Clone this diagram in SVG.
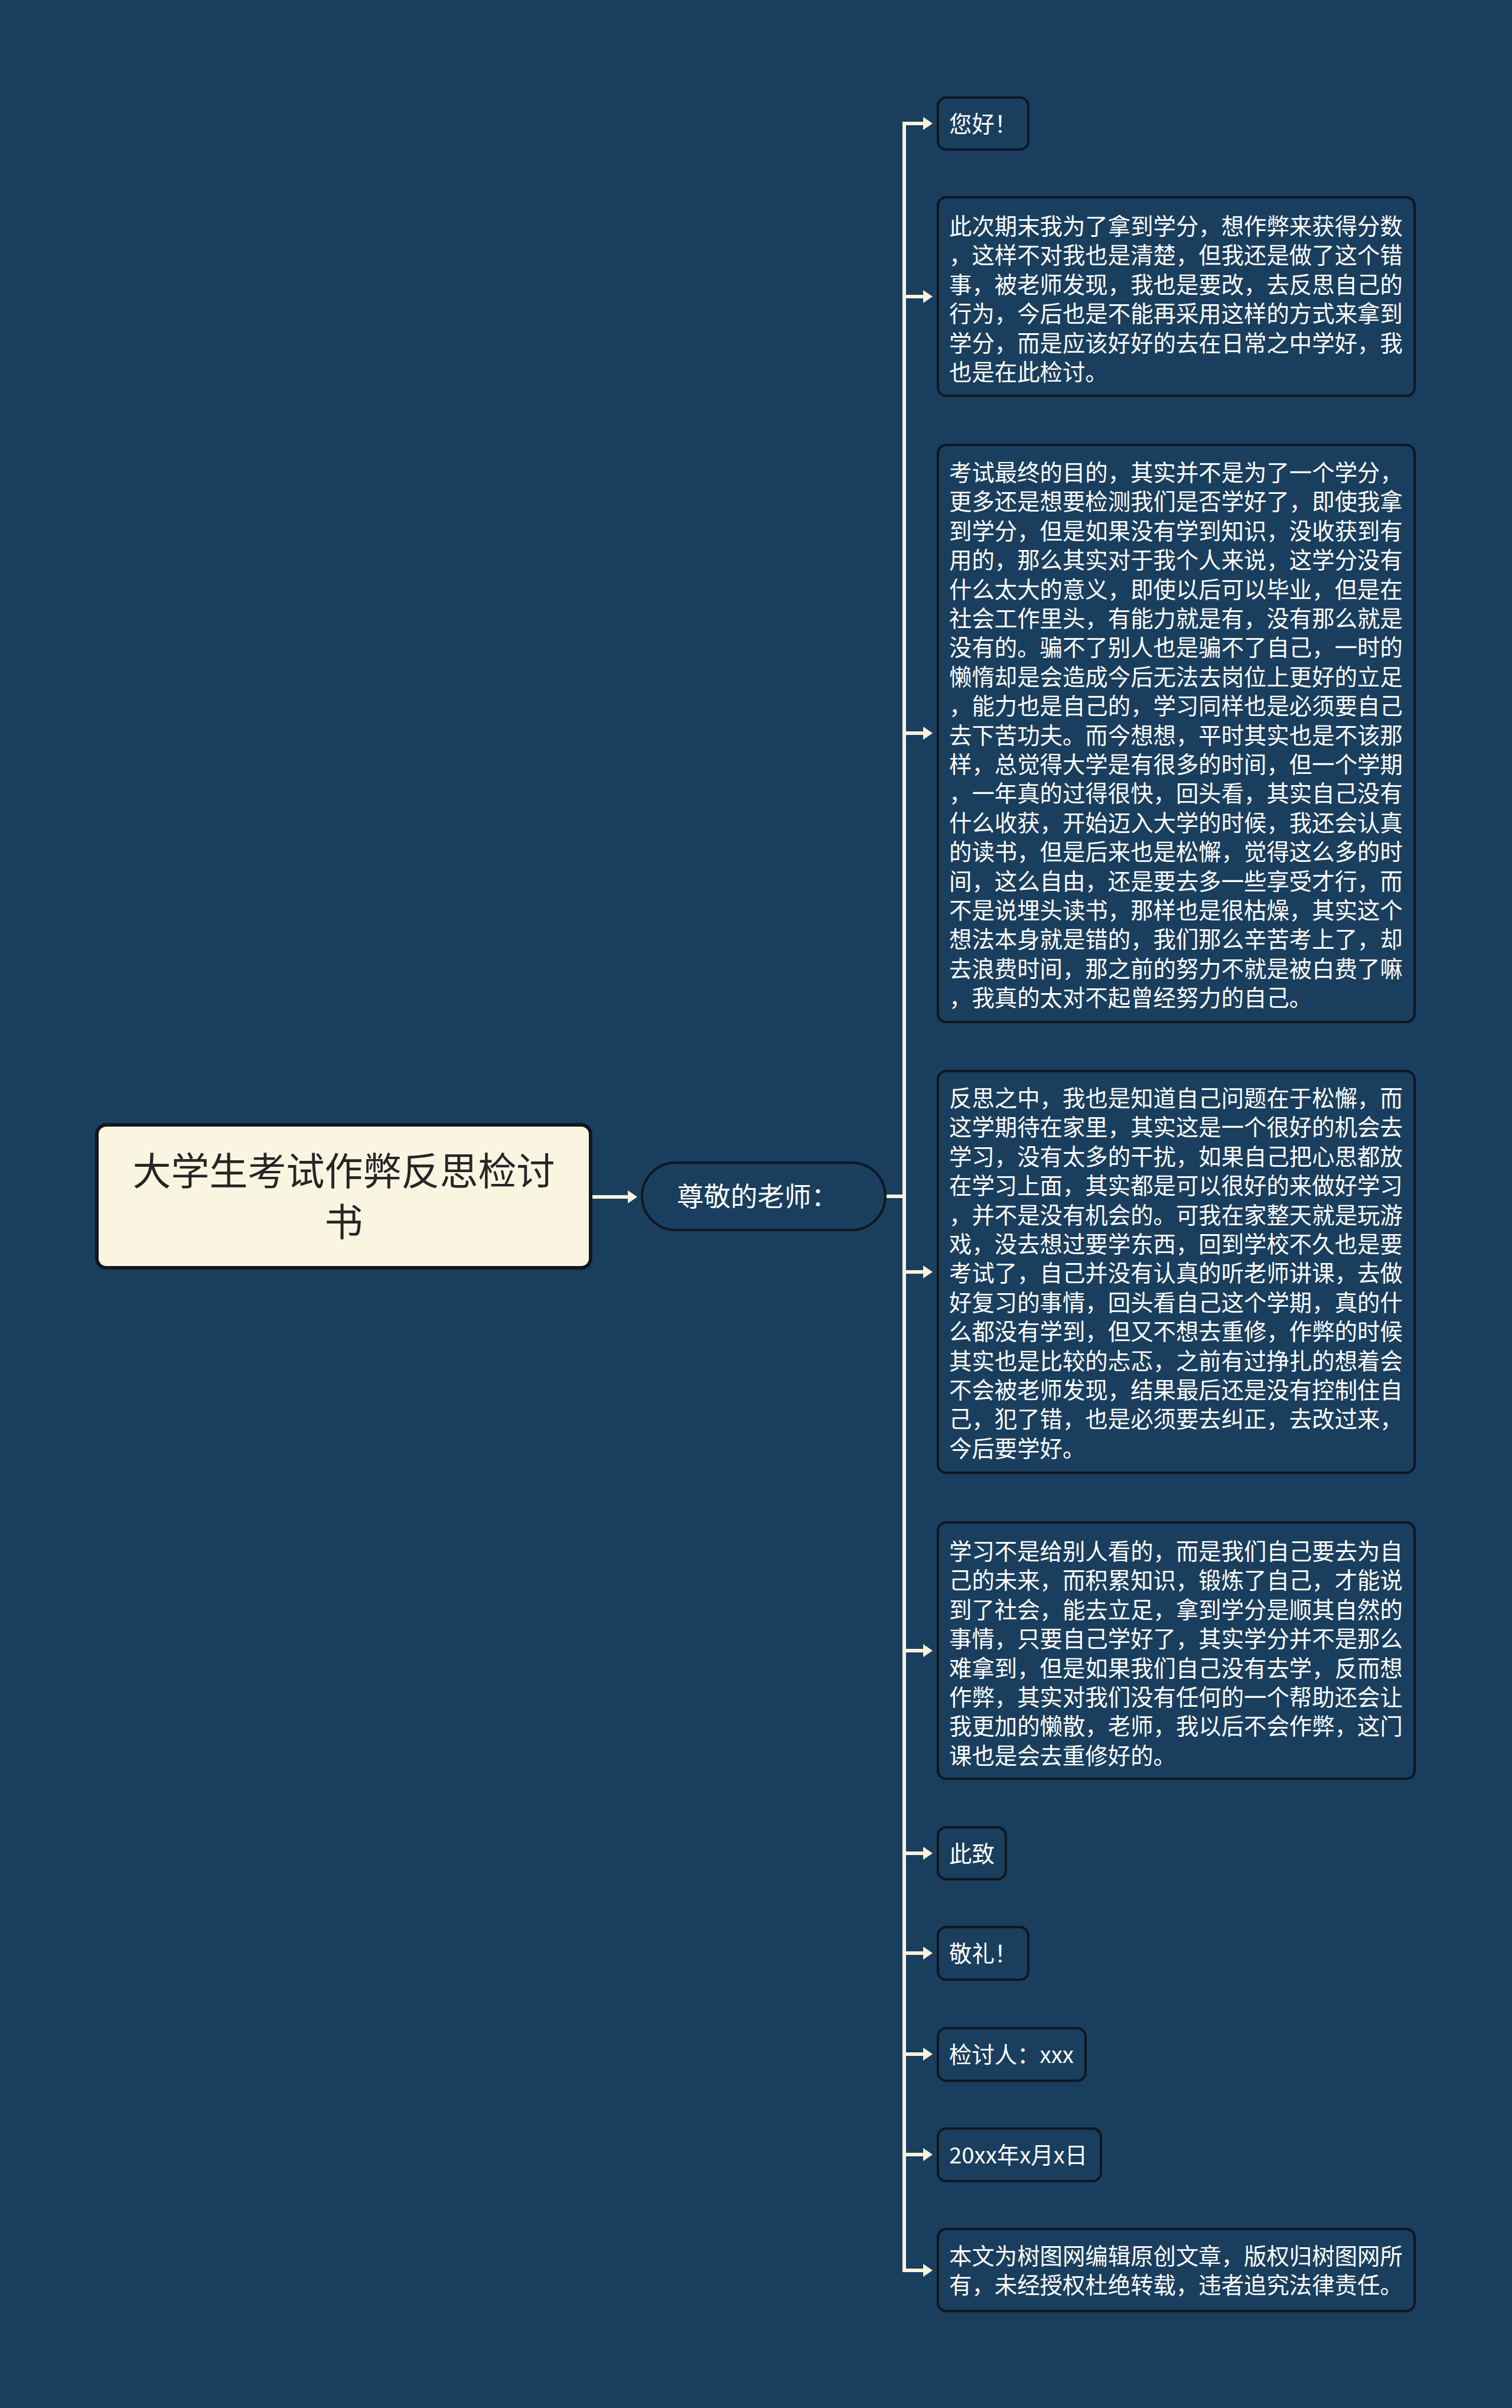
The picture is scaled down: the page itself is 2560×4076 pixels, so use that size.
<svg xmlns="http://www.w3.org/2000/svg" width="2560" height="4076" viewBox="0 0 2560 4076">
<style>
.bg{fill:#1A3E5D}
.node{fill:#1A3E5D;stroke:#0E1720;stroke-width:4}
.root{fill:#FAF5E1;stroke:#0E1720;stroke-width:6}
.t{font-family:"Noto Sans CJK SC","Noto Sans",sans-serif;font-size:38.4px;fill:#FFFFFF}
.rt{font-family:"Noto Sans CJK SC","Noto Sans",sans-serif;font-size:65px;fill:#262626}
.st{font-family:"Noto Sans CJK SC","Noto Sans",sans-serif;font-size:45.5px;fill:#FFFFFF}
.c{fill:none;stroke:#FAF3DD;stroke-width:6}
</style>
<defs>
<marker id="ah" markerWidth="18" markerHeight="24" refX="0" refY="12" orient="auto" markerUnits="userSpaceOnUse">
<path d="M0,1 L16,12 L0,23 Z" fill="#FAF3DD"/>
</marker>
</defs>
<rect class="bg" x="0" y="0" width="2560" height="4076"/>

<g id="connectors">
<path class="c" d="M1531,209 V3843" stroke-linecap="square"/>
<path class="c" d="M1000,2026 H1063" marker-end="url(#ah)"/>
<path class="c" d="M1500,2025 H1531"/>
<path class="c" d="M1531,209 H1563" marker-end="url(#ah)"/>
<path class="c" d="M1531,502 H1563" marker-end="url(#ah)"/>
<path class="c" d="M1531,1241 H1563" marker-end="url(#ah)"/>
<path class="c" d="M1531,2153 H1563" marker-end="url(#ah)"/>
<path class="c" d="M1531,2794 H1563" marker-end="url(#ah)"/>
<path class="c" d="M1531,3137 H1563" marker-end="url(#ah)"/>
<path class="c" d="M1531,3306 H1563" marker-end="url(#ah)"/>
<path class="c" d="M1531,3477 H1563" marker-end="url(#ah)"/>
<path class="c" d="M1531,3647 H1563" marker-end="url(#ah)"/>
<path class="c" d="M1531,3843 H1563" marker-end="url(#ah)"/>
</g>

<g id="root">
<rect class="root" x="164" y="1904" width="836" height="242" rx="16"/>
<text class="rt" text-anchor="middle" x="582" y="2006">大学生考试作弊反思检讨</text>
<text class="rt" text-anchor="middle" x="582" y="2092">书</text>
</g>

<g id="sub">
<rect class="node" x="1087" y="1968" width="412" height="114" rx="57" stroke-width="5"/>
<text class="st" x="1146" y="2042">尊敬的老师：</text>
</g>

<g id="n1">
<rect class="node" x="1588" y="165" width="153" height="88" rx="14"/>
<text class="t" x="1607" y="224">您好！</text>
</g>

<g id="n2">
<rect class="node" x="1588" y="334" width="807" height="336" rx="14"/>
<text class="t">
<tspan x="1607" y="397">此次期末我为了拿到学分，想作弊来获得分数</tspan>
<tspan x="1607" y="446.4">，这样不对我也是清楚，但我还是做了这个错</tspan>
<tspan x="1607" y="495.8">事，被老师发现，我也是要改，去反思自己的</tspan>
<tspan x="1607" y="545.2">行为，今后也是不能再采用这样的方式来拿到</tspan>
<tspan x="1607" y="594.6">学分，而是应该好好的去在日常之中学好，我</tspan>
<tspan x="1607" y="644">也是在此检讨。</tspan>
</text>
</g>

<g id="n3">
<rect class="node" x="1588" y="753" width="807" height="977" rx="14"/>
<text class="t">
<tspan x="1607" y="814">考试最终的目的，其实并不是为了一个学分，</tspan>
<tspan x="1607" y="863.4">更多还是想要检测我们是否学好了，即使我拿</tspan>
<tspan x="1607" y="912.8">到学分，但是如果没有学到知识，没收获到有</tspan>
<tspan x="1607" y="962.2">用的，那么其实对于我个人来说，这学分没有</tspan>
<tspan x="1607" y="1011.6">什么太大的意义，即使以后可以毕业，但是在</tspan>
<tspan x="1607" y="1061">社会工作里头，有能力就是有，没有那么就是</tspan>
<tspan x="1607" y="1110.4">没有的。骗不了别人也是骗不了自己，一时的</tspan>
<tspan x="1607" y="1159.8">懒惰却是会造成今后无法去岗位上更好的立足</tspan>
<tspan x="1607" y="1209.2">，能力也是自己的，学习同样也是必须要自己</tspan>
<tspan x="1607" y="1258.6">去下苦功夫。而今想想，平时其实也是不该那</tspan>
<tspan x="1607" y="1308">样，总觉得大学是有很多的时间，但一个学期</tspan>
<tspan x="1607" y="1357.4">，一年真的过得很快，回头看，其实自己没有</tspan>
<tspan x="1607" y="1406.8">什么收获，开始迈入大学的时候，我还会认真</tspan>
<tspan x="1607" y="1456.2">的读书，但是后来也是松懈，觉得这么多的时</tspan>
<tspan x="1607" y="1505.6">间，这么自由，还是要去多一些享受才行，而</tspan>
<tspan x="1607" y="1555">不是说埋头读书，那样也是很枯燥，其实这个</tspan>
<tspan x="1607" y="1604.4">想法本身就是错的，我们那么辛苦考上了，却</tspan>
<tspan x="1607" y="1653.8">去浪费时间，那之前的努力不就是被白费了嘛</tspan>
<tspan x="1607" y="1703.2">，我真的太对不起曾经努力的自己。</tspan>
</text>
</g>

<g id="n4">
<rect class="node" x="1588" y="1813" width="807" height="680" rx="14"/>
<text class="t">
<tspan x="1607" y="1873">反思之中，我也是知道自己问题在于松懈，而</tspan>
<tspan x="1607" y="1922.4">这学期待在家里，其实这是一个很好的机会去</tspan>
<tspan x="1607" y="1971.8">学习，没有太多的干扰，如果自己把心思都放</tspan>
<tspan x="1607" y="2021.2">在学习上面，其实都是可以很好的来做好学习</tspan>
<tspan x="1607" y="2070.6">，并不是没有机会的。可我在家整天就是玩游</tspan>
<tspan x="1607" y="2120">戏，没去想过要学东西，回到学校不久也是要</tspan>
<tspan x="1607" y="2169.4">考试了，自己并没有认真的听老师讲课，去做</tspan>
<tspan x="1607" y="2218.8">好复习的事情，回头看自己这个学期，真的什</tspan>
<tspan x="1607" y="2268.2">么都没有学到，但又不想去重修，作弊的时候</tspan>
<tspan x="1607" y="2317.6">其实也是比较的忐忑，之前有过挣扎的想着会</tspan>
<tspan x="1607" y="2367">不会被老师发现，结果最后还是没有控制住自</tspan>
<tspan x="1607" y="2416.4">己，犯了错，也是必须要去纠正，去改过来，</tspan>
<tspan x="1607" y="2465.8">今后要学好。</tspan>
</text>
</g>

<g id="n5">
<rect class="node" x="1588" y="2577" width="807" height="434" rx="14"/>
<text class="t">
<tspan x="1607" y="2640">学习不是给别人看的，而是我们自己要去为自</tspan>
<tspan x="1607" y="2689.4">己的未来，而积累知识，锻炼了自己，才能说</tspan>
<tspan x="1607" y="2738.8">到了社会，能去立足，拿到学分是顺其自然的</tspan>
<tspan x="1607" y="2788.2">事情，只要自己学好了，其实学分并不是那么</tspan>
<tspan x="1607" y="2837.6">难拿到，但是如果我们自己没有去学，反而想</tspan>
<tspan x="1607" y="2887">作弊，其实对我们没有任何的一个帮助还会让</tspan>
<tspan x="1607" y="2936.4">我更加的懒散，老师，我以后不会作弊，这门</tspan>
<tspan x="1607" y="2985.8">课也是会去重修好的。</tspan>
</text>
</g>

<g id="n6">
<rect class="node" x="1588" y="3093" width="115" height="88" rx="14"/>
<text class="t" x="1607" y="3152">此致</text>
</g>

<g id="n7">
<rect class="node" x="1588" y="3262" width="153" height="89" rx="14"/>
<text class="t" x="1607" y="3321">敬礼！</text>
</g>

<g id="n8">
<rect class="node" x="1588" y="3433" width="250" height="89" rx="14"/>
<text class="t" x="1607" y="3492">检讨人：xxx</text>
</g>

<g id="n9">
<rect class="node" x="1588" y="3603" width="276" height="89" rx="14"/>
<text class="t" x="1607" y="3662">20xx年x月x日</text>
</g>

<g id="n10">
<rect class="node" x="1588" y="3773" width="807" height="139" rx="14"/>
<text class="t">
<tspan x="1607" y="3833">本文为树图网编辑原创文章，版权归树图网所</tspan>
<tspan x="1607" y="3882.4">有，未经授权杜绝转载，违者追究法律责任。</tspan>
</text>
</g>
</svg>
